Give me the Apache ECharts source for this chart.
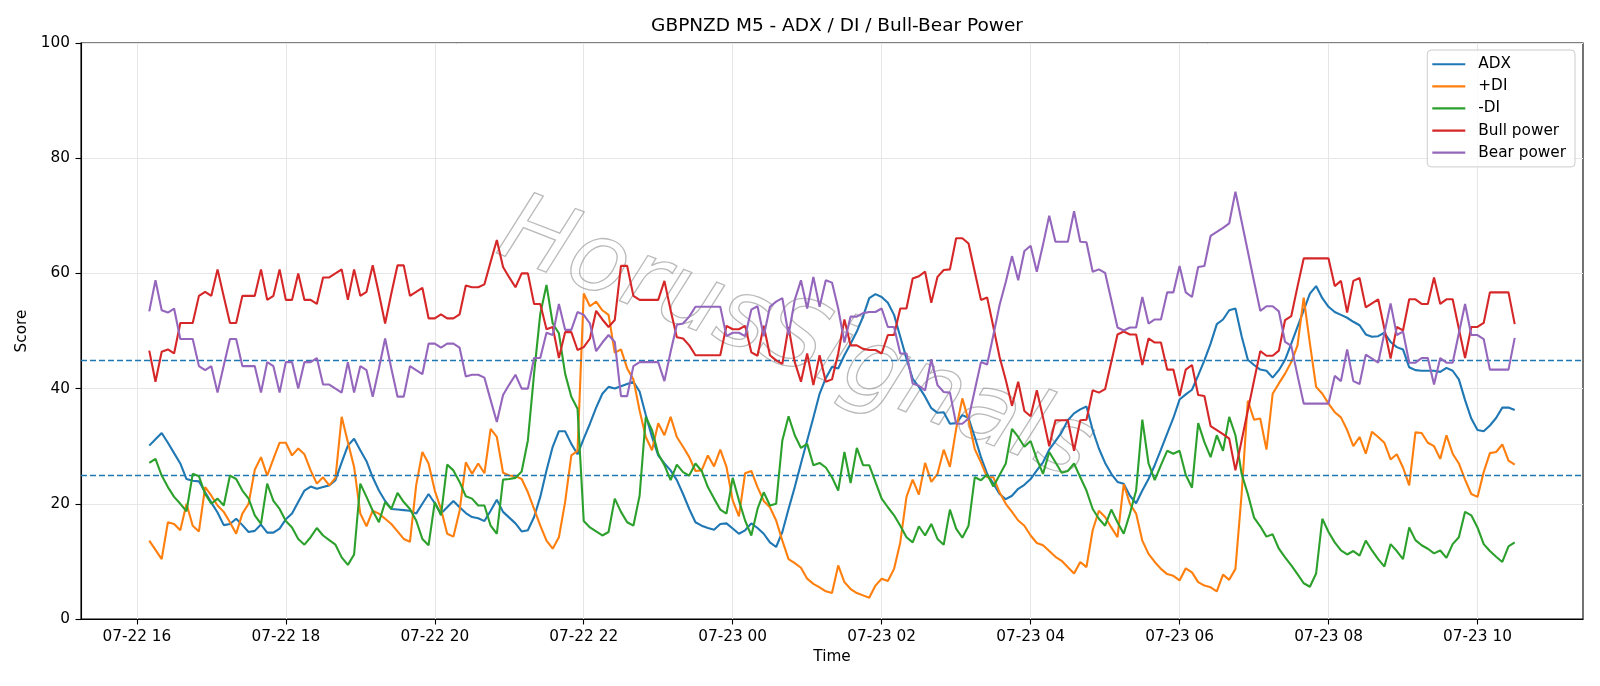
<!DOCTYPE html>
<html>
<head>
<meta charset="utf-8">
<script src="https://cdn.jsdelivr.net/npm/echarts@6/dist/echarts.min.js"></script>
<style>
html,body{margin:0;padding:0;background:#fff;}
#chart{width:1600px;height:686px;}
</style>
</head>
<body>
<div id="chart"></div>
<script>
// Time grid: M5 bars from 07-22 16:10 to 07-23 10:30 (hours since 07-22 00:00)
const startHour = 16 + 10 / 60;
const stepHour = 5 / 60;

const tickHours = [16, 18, 20, 22, 24, 26, 28, 30, 32, 34];
const tickLabels = ['07-22 16', '07-22 18', '07-22 20', '07-22 22', '07-23 00', '07-23 02', '07-23 04', '07-23 06', '07-23 08', '07-23 10'];

const adx = [
30.1,31.2,32.3,30.6,28.8,27.0,24.3,24.0,23.9,22.0,
20.2,18.5,16.3,16.5,17.4,16.3,15.1,15.3,16.4,15.0,
15.0,15.7,17.3,18.3,20.3,22.3,23.0,22.6,22.9,23.2,
24.1,27.2,30.1,31.3,29.3,27.4,24.6,22.3,20.5,19.1,
19.0,18.9,18.8,18.3,20.0,21.7,20.1,18.3,19.4,20.5,
19.4,18.4,17.7,17.5,17.0,18.8,20.7,18.6,17.6,16.6,
15.2,15.4,17.7,21.2,25.8,29.9,32.6,32.6,30.4,28.6,
31.3,33.9,36.7,39.1,40.3,40.0,40.4,40.8,41.2,39.5,
35.4,31.6,28.4,27.0,25.8,24.1,21.7,19.1,16.8,16.2,
15.8,15.5,16.5,16.6,15.7,14.8,15.4,16.6,15.8,14.8,
13.3,12.5,15.1,19.1,22.9,27.0,31.0,35.0,39.1,41.8,
43.8,43.5,45.8,47.8,49.9,52.5,55.7,56.4,55.9,54.9,
52.8,49.0,45.2,41.7,40.3,38.6,36.6,35.8,35.9,33.9,
34.0,35.4,34.9,31.6,28.1,25.2,23.5,21.7,20.8,21.4,
22.6,23.3,24.3,25.8,27.2,29.4,30.9,32.4,34.5,35.7,
36.4,36.9,32.8,29.6,27.1,25.2,23.8,23.5,21.4,20.1,
22.3,24.3,26.7,29.4,32.2,34.9,38.1,39.0,39.8,42.3,
44.9,47.8,51.2,52.0,53.6,53.9,49.1,45.0,44.1,43.3,
43.1,41.9,43.2,45.0,47.8,50.7,53.6,56.5,57.8,55.7,
54.2,53.3,52.8,52.3,51.6,51.0,49.4,49.0,49.1,49.7,
48.1,47.2,46.8,43.7,43.2,43.1,43.1,43.1,42.9,43.6,
43.1,41.6,38.0,34.8,32.8,32.6,33.6,34.9,36.7,36.7,36.3
];

const plusDI = [
13.6,12.0,10.4,16.8,16.5,15.4,20.0,16.2,15.2,22.9,
21.4,19.7,18.6,16.8,14.8,18.3,20.0,25.9,28.1,24.9,
27.8,30.6,30.6,28.4,29.6,28.6,25.8,23.5,24.6,23.2,
24.5,35.1,30.7,26.4,18.3,16.1,18.8,18.3,17.4,16.5,
15.2,13.9,13.4,23.2,29.0,27.0,22.3,19.1,14.8,14.3,
18.8,27.2,25.2,27.0,25.3,33.0,31.6,25.4,24.9,24.8,
24.3,22.0,19.1,16.2,13.6,12.2,14.2,20.3,28.4,29.2,
56.5,54.3,55.1,53.6,52.8,46.2,46.8,43.5,41.6,36.2,
31.6,29.3,34.0,31.9,35.1,31.6,29.9,28.1,25.7,25.8,
28.4,26.5,29.4,26.4,20.6,17.8,25.3,25.7,22.9,20.5,
19.4,17.1,13.6,10.4,9.7,8.9,7.0,6.1,5.5,4.8,
4.5,9.3,6.4,5.2,4.5,4.1,3.7,5.8,7.0,6.6,
8.7,13.3,21.2,24.2,21.6,27.1,23.8,25.2,29.4,26.4,
33.0,38.3,34.5,29.5,27.2,24.6,24.6,22.0,20.0,18.6,
17.1,16.2,14.5,13.2,12.8,11.8,10.8,10.1,9.0,7.9,
9.9,9.0,15.4,18.8,17.7,15.9,14.2,23.4,20.0,18.3,
13.6,11.3,9.9,8.7,7.8,7.5,6.7,8.8,8.1,6.4,
5.8,5.5,4.8,7.7,6.8,8.7,21.7,37.9,34.6,34.8,
29.4,39.1,40.9,42.6,44.6,47.5,55.8,47.8,40.3,39.1,
37.4,35.9,35.0,32.8,30.0,31.6,28.7,32.5,31.6,30.6,
27.7,28.6,26.3,23.2,32.4,32.3,30.6,30.0,27.8,31.9,
28.7,27.0,24.2,21.7,21.2,25.5,28.8,29.0,30.3,27.5,26.8
];

const minusDI = [
27.1,27.8,24.9,22.9,21.2,20.0,18.7,25.2,24.8,21.7,
20.0,20.9,19.7,24.9,24.3,22.3,20.9,18.0,16.5,23.5,
20.5,19.1,17.0,15.9,13.9,12.9,14.2,15.8,14.5,13.7,
12.9,10.7,9.4,11.2,23.5,21.2,18.8,16.8,20.3,19.1,
21.9,20.3,19.1,17.1,13.9,12.8,20.3,18.0,26.8,25.8,
23.8,21.3,20.9,19.7,19.7,16.2,14.8,24.2,24.3,24.5,
25.6,31.0,42.6,53.0,58.0,51.3,49.6,42.6,38.6,36.5,
17.0,15.9,15.2,14.5,15.1,20.9,18.6,16.8,16.2,21.4,
35.1,32.8,28.7,26.7,24.1,26.8,25.5,24.9,27.0,25.7,
22.9,20.9,19.0,18.3,24.5,20.6,17.1,14.5,19.1,22.0,
19.7,20.0,31.0,35.2,31.9,29.7,30.4,26.7,27.1,26.3,
24.6,22.3,29.0,23.6,29.7,26.7,26.7,23.8,20.9,19.4,
18.0,16.2,14.2,13.3,16.1,14.5,16.5,13.9,12.9,19.0,
15.7,14.1,16.2,24.6,24.1,25.1,23.0,25.0,27.0,33.0,
31.6,29.9,30.9,27.8,25.2,29.0,27.2,25.4,25.7,27.0,
24.6,22.3,19.1,17.4,16.2,19.0,16.8,14.8,18.3,22.3,
34.6,27.0,24.1,26.7,29.2,28.7,29.2,25.0,22.8,34.0,
30.7,28.1,31.9,29.2,35.1,31.9,25.2,21.7,17.6,16.1,
14.3,14.7,12.2,10.7,9.3,7.8,6.2,5.6,7.9,17.4,
15.1,13.3,11.9,11.2,11.8,11.0,13.6,11.9,10.4,9.1,
13.0,11.8,10.4,15.9,13.7,12.8,12.2,11.4,11.9,10.6,
13.0,14.2,18.6,18.0,15.9,13.0,11.8,10.8,9.9,12.6,13.3
];

const bullPower = [
46.6,41.2,46.4,46.8,46.1,51.4,51.4,51.4,56.1,56.8,
56.1,60.7,56.0,51.4,51.4,56.1,56.1,56.1,60.7,55.4,
56.1,60.7,55.4,55.4,60.0,55.4,55.4,54.7,59.3,59.3,
60.0,60.7,55.4,60.7,56.1,56.8,61.4,56.5,51.3,56.5,
61.4,61.4,56.1,56.8,57.5,52.2,52.2,52.9,52.2,52.2,
52.9,57.9,57.6,57.6,58.1,62.0,65.8,61.1,59.3,57.6,
60.0,60.0,54.7,54.7,50.3,50.7,45.3,49.8,49.8,46.7,
47.2,48.7,53.5,52.0,50.7,51.9,61.3,61.3,56.1,55.4,
55.4,55.4,55.4,58.7,53.6,48.9,48.7,47.5,45.8,45.8,
45.8,45.8,45.8,50.9,50.3,50.3,50.9,46.3,45.7,50.9,
45.8,44.9,44.3,50.7,44.6,41.2,46.1,40.6,45.8,41.2,
41.6,46.1,52.0,47.5,47.5,46.9,46.7,46.7,46.1,49.3,
49.3,53.9,53.9,59.1,59.5,60.3,54.9,59.4,60.6,60.7,
66.1,66.1,65.2,60.3,55.4,55.8,50.7,45.5,41.5,37.0,
41.2,36.1,35.2,39.7,35.0,30.0,34.5,34.5,34.5,29.2,
34.5,34.6,39.7,39.3,39.9,44.6,49.4,49.9,49.4,49.4,
44.1,48.7,48.0,48.0,43.3,43.3,38.7,43.3,44.1,38.9,
38.7,33.5,32.8,32.1,31.3,25.8,31.0,36.2,41.4,46.5,
45.7,45.7,46.6,51.9,52.6,57.7,62.6,62.6,62.6,62.6,
62.6,57.8,58.7,53.2,58.7,59.2,54.1,54.8,55.5,50.4,
45.2,50.7,50.1,55.5,55.5,54.7,54.7,59.3,54.7,55.5,
55.5,50.4,45.3,50.7,50.7,51.4,56.7,56.7,56.7,56.7,51.2
];

const bearPower = [
53.4,58.8,53.6,53.2,53.9,48.6,48.6,48.6,43.9,43.2,
43.9,39.3,44.0,48.6,48.6,43.9,43.9,43.9,39.3,44.6,
43.9,39.3,44.6,44.6,40.0,44.6,44.6,45.3,40.7,40.7,
40.0,39.3,44.6,39.3,43.9,43.2,38.6,43.5,48.7,43.5,
38.6,38.6,43.9,43.2,42.5,47.8,47.8,47.1,47.8,47.8,
47.1,42.1,42.4,42.4,41.9,38.0,34.2,38.9,40.7,42.4,
40.0,40.0,45.3,45.3,49.7,49.3,54.7,50.2,50.2,53.3,
52.8,51.3,46.5,48.0,49.3,48.1,38.7,38.7,43.9,44.6,
44.6,44.6,44.6,41.3,46.4,51.1,51.3,52.5,54.2,54.2,
54.2,54.2,54.2,49.1,49.7,49.7,49.1,53.7,54.3,49.1,
54.2,55.1,55.7,49.3,55.4,58.8,53.9,59.4,54.2,58.8,
58.4,53.9,48.0,52.5,52.5,53.1,53.3,53.3,53.9,50.7,
50.7,46.1,46.1,40.9,40.5,39.7,45.1,40.6,39.4,39.3,
33.9,33.9,34.8,39.7,44.6,44.2,49.3,54.5,58.5,63.0,
58.8,63.9,64.8,60.3,65.0,70.0,65.5,65.5,65.5,70.8,
65.5,65.4,60.3,60.7,60.1,55.4,50.6,50.1,50.6,50.6,
55.9,51.3,52.0,52.0,56.7,56.7,61.3,56.7,55.9,61.1,
61.3,66.5,67.2,67.9,68.7,74.2,69.0,63.8,58.6,53.5,
54.3,54.3,53.4,48.1,47.4,42.3,37.4,37.4,37.4,37.4,
37.4,42.2,41.3,46.8,41.3,40.8,45.9,45.2,44.5,49.6,
54.8,49.3,49.9,44.5,44.5,45.3,45.3,40.7,45.3,44.5,
44.5,49.6,54.7,49.3,49.3,48.6,43.3,43.3,43.3,43.3,48.8
];

const thresholds = [45, 25];
const seriesNames = ['ADX', '+DI', '-DI', 'Bull power', 'Bear power'];
const seriesColors = ['#1f77b4', '#ff7f0e', '#2ca02c', '#d62728', '#9467bd'];
const seriesValues = [adx, plusDI, minusDI, bullPower, bearPower];

const times = adx.map((_, i) => startHour + i * stepHour);

const FONT = '"DejaVu Sans", "Liberation Sans", sans-serif';
const chart = echarts.init(document.getElementById('chart'), null, {renderer: 'canvas'});

function labelFor(h) {
  const idx = tickHours.indexOf(Math.round(h));
  return idx >= 0 ? tickLabels[idx] : '';
}

const series = seriesNames.map((name, k) => ({
  name: name,
  type: 'line',
  data: seriesValues[k].map((v, i) => [times[i], v]),
  showSymbol: false,
  symbol: 'none',
  lineStyle: {width: 2.1, color: seriesColors[k]},
  itemStyle: {color: seriesColors[k]},
  emphasis: {disabled: true},
  z: 3 + k
}));

series[0].markLine = {
  silent: true,
  symbol: ['none', 'none'],
  label: {show: false},
  lineStyle: {color: '#1f77b4', type: [6, 3], width: 1.4},
  data: thresholds.map(t => ({yAxis: t}))
};

chart.setOption({
  animation: false,
  backgroundColor: '#ffffff',
  title: {
    text: 'GBPNZD M5 - ADX / DI / Bull-Bear Power',
    left: 832,
    textAlign: 'center',
    top: 12,
    textStyle: {fontFamily: FONT, fontSize: 18.5, fontWeight: 'normal', color: '#000'}
  },
  grid: {
    left: 81, right: 17, top: 43, bottom: 67,
    show: true, borderColor: '#000', borderWidth: 1.1, backgroundColor: 'transparent'
  },
  legend: {
    orient: 'vertical',
    right: 25,
    top: 50,
    padding: [6, 9, 6, 5],
    itemGap: 5.6,
    itemWidth: 33,
    itemHeight: 2.2,
    icon: 'rect',
    borderColor: '#cccccc',
    borderWidth: 1,
    borderRadius: 4,
    backgroundColor: 'rgba(255,255,255,0.8)',
    data: seriesNames,
    textStyle: {fontFamily: FONT, fontSize: 15.3, color: '#000', lineHeight: 16.5, padding: [0, 0, 0, 8]}
  },
  graphic: [{
    type: 'text',
    x: 795,
    y: 342,
    rotation: -0.37,
    z: 1,
    silent: true,
    style: {
      text: 'HorusSignals',
      font: 'italic normal 96px "DejaVu Sans"',
      fill: 'rgba(255,255,255,0)',
      stroke: 'rgba(140,140,140,0.6)',
      lineWidth: 1.3,
      textAlign: 'center',
      textVerticalAlign: 'middle',
      shadowColor: 'rgba(0,0,0,0.18)',
      shadowBlur: 2,
      shadowOffsetX: 3,
      shadowOffsetY: 3
    }
  }],
  xAxis: {
    type: 'value',
    min: 15.25,
    max: 35.4167,
    splitNumber: 10,
    name: 'Time',
    nameLocation: 'middle',
    nameGap: 29,
    nameTextStyle: {fontFamily: FONT, fontSize: 15.3, color: '#000'},
    axisLine: {show: true, lineStyle: {color: '#000', width: 1.1}},
    axisTick: {show: true, length: 5.5, lineStyle: {color: '#000', width: 1.1}, customValues: tickHours},
    axisLabel: {
      fontFamily: FONT, fontSize: 15.3, color: '#000', margin: 11,
      customValues: tickHours,
      formatter: v => labelFor(v)
    },
    splitLine: {show: true, lineStyle: {color: '#e6e6e6', width: 1}}
  },
  yAxis: {
    type: 'value',
    min: 0,
    max: 100,
    interval: 20,
    name: 'Score',
    nameLocation: 'middle',
    nameRotate: 90,
    nameGap: 48,
    nameTextStyle: {fontFamily: FONT, fontSize: 15.3, color: '#000'},
    axisLine: {show: true, lineStyle: {color: '#000', width: 1.1}},
    axisTick: {show: true, length: 5.5, lineStyle: {color: '#000', width: 1.1}},
    axisLabel: {fontFamily: FONT, fontSize: 15.3, color: '#000', margin: 11},
    splitLine: {show: true, lineStyle: {color: '#e6e6e6', width: 1}}
  },
  series: series
});
</script>
</body>
</html>
